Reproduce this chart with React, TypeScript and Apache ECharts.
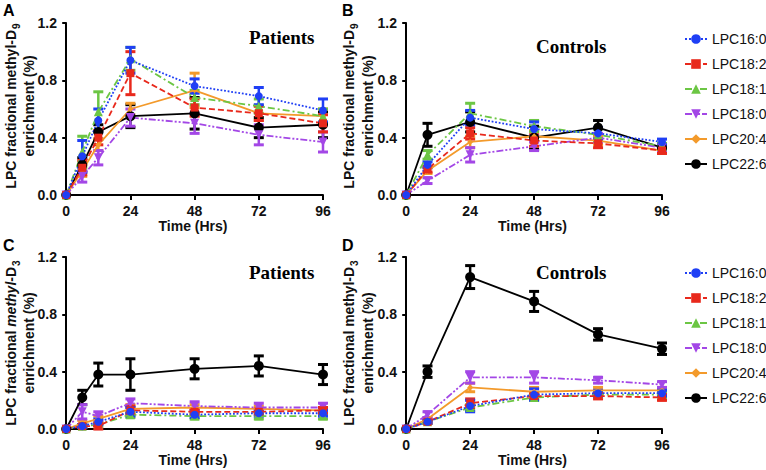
import React, { useEffect, useRef } from "react";
import * as echarts from "echarts";

const lipids = ["LPC16:0", "LPC18:2", "LPC18:1", "LPC18:0", "LPC20:4", "LPC22:6"];
const timesPatients = [0, 6, 12, 24, 48, 72, 96];
const timesControls = [0, 8, 24, 48, 72, 96];
const xTicks = [0, 24, 48, 72, 96];

// Panel A: patients, methyl-D9 (rows follow `lipids`)
const meanA = [
  [0, 0.27, 0.52, 0.94, 0.76, 0.69, 0.59],
  [0, 0.19, 0.4, 0.85, 0.61, 0.57, 0.5],
  [0, 0.3, 0.58, 0.95, 0.68, 0.62, 0.55],
  [0, 0.13, 0.26, 0.54, 0.5, 0.42, 0.37],
  [0, 0.17, 0.35, 0.6, 0.73, 0.57, 0.55],
  [0, 0.21, 0.44, 0.55, 0.57, 0.47, 0.49],
];
const errA = [
  [0, 0.11, 0.08, 0.09, 0.05, 0.06, 0.08],
  [0, 0.05, 0.05, 0.15, 0.06, 0.05, 0.06],
  [0, 0.11, 0.14, 0.08, 0.05, 0.05, 0.05],
  [0, 0.04, 0.05, 0.06, 0.07, 0.07, 0.07],
  [0, 0.04, 0.04, 0.04, 0.12, 0.05, 0.05],
  [0, 0.05, 0.05, 0.08, 0.11, 0.07, 0.09],
];
// Panel B: controls, methyl-D9
const meanB = [
  [0, 0.21, 0.54, 0.46, 0.43, 0.37],
  [0, 0.18, 0.43, 0.38, 0.36, 0.31],
  [0, 0.28, 0.57, 0.48, 0.42, 0.34],
  [0, 0.1, 0.28, 0.34, 0.4, 0.33],
  [0, 0.17, 0.37, 0.41, 0.38, 0.31],
  [0, 0.42, 0.51, 0.4, 0.47, 0.33],
];
const errB = [
  [0, 0.02, 0.05, 0.05, 0.04, 0.02],
  [0, 0.02, 0.04, 0.04, 0.03, 0.02],
  [0, 0.03, 0.07, 0.04, 0.04, 0.02],
  [0, 0.02, 0.05, 0.03, 0.03, 0.02],
  [0, 0.02, 0.04, 0.04, 0.03, 0.02],
  [0, 0.08, 0.07, 0.08, 0.05, 0.02],
];
// Panel C: patients, methyl-D3
const meanC = [
  [0, 0.02, 0.05, 0.12, 0.1, 0.11, 0.11],
  [0, 0.02, 0.02, 0.13, 0.12, 0.12, 0.13],
  [0, 0.02, 0.03, 0.1, 0.09, 0.09, 0.09],
  [0, 0.12, 0.09, 0.18, 0.16, 0.15, 0.15],
  [0, 0.04, 0.07, 0.14, 0.15, 0.14, 0.13],
  [0, 0.22, 0.38, 0.38, 0.42, 0.44, 0.38],
];
const errC = [
  [0, 0.01, 0.02, 0.03, 0.02, 0.02, 0.02],
  [0, 0.01, 0.02, 0.03, 0.02, 0.02, 0.02],
  [0, 0.01, 0.01, 0.02, 0.02, 0.02, 0.02],
  [0, 0.05, 0.03, 0.03, 0.03, 0.03, 0.03],
  [0, 0.02, 0.02, 0.03, 0.02, 0.02, 0.02],
  [0, 0.05, 0.08, 0.11, 0.07, 0.07, 0.07],
];
// Panel D: controls, methyl-D3
const meanD = [
  [0, 0.05, 0.16, 0.24, 0.25, 0.25],
  [0, 0.05, 0.18, 0.23, 0.23, 0.22],
  [0, 0.05, 0.15, 0.22, 0.24, 0.24],
  [0, 0.1, 0.36, 0.36, 0.34, 0.31],
  [0, 0.07, 0.29, 0.26, 0.27, 0.27],
  [0, 0.4, 1.06, 0.89, 0.66, 0.56],
];
const errD = [
  [0, 0.01, 0.04, 0.04, 0.02, 0.02],
  [0, 0.01, 0.03, 0.02, 0.02, 0.02],
  [0, 0.01, 0.02, 0.02, 0.02, 0.02],
  [0, 0.02, 0.04, 0.04, 0.02, 0.02],
  [0, 0.01, 0.03, 0.03, 0.02, 0.02],
  [0, 0.04, 0.08, 0.07, 0.04, 0.04],
];

const colors = ["#1f3ff5", "#e8291c", "#6cc644", "#a347e6", "#f39a2b", "#000000"];
const lineTypes: any[] = ["dotted", [6, 3], [7, 3, 2, 3], [7, 2, 2, 2, 2, 2], "solid", "solid"];
const symbols = ["circle", "rect", "triangle", "triangle", "diamond", "circle"];
const symbolRotates = [0, 0, 0, 180, 0, 0];
const symbolSizes = [8, 8, 9, 9, 6, 10];
const drawOrder = [5, 4, 3, 2, 1, 0];

const SANS = "Liberation Sans, Arial, sans-serif";
const SERIF = "Liberation Serif, Times New Roman, serif";

const panels = [
  { means: meanA, errs: errA, times: timesPatients, left: 63, top: 23, width: 260 },
  { means: meanB, errs: errB, times: timesControls, left: 403, top: 23, width: 259 },
  { means: meanC, errs: errC, times: timesPatients, left: 63, top: 257, width: 260 },
  { means: meanD, errs: errD, times: timesControls, left: 403, top: 257, width: 259 },
];

function buildOption() {
  const grid: any[] = [];
  const xAxis: any[] = [];
  const yAxis: any[] = [];
  const series: any[] = [];
  panels.forEach((p, pi) => {
    grid.push({ left: p.left, top: p.top, width: p.width, height: 172 });
    xAxis.push({
      gridIndex: pi,
      type: "value",
      min: -1.2,
      max: 96,
      name: "Time (Hrs)",
      nameLocation: "middle",
      nameGap: 24,
      nameTextStyle: { fontFamily: SANS, fontWeight: "bold", fontSize: 14, color: "#111" },
      axisLine: { onZero: false, lineStyle: { color: "#000", width: 2 } },
      axisTick: { customValues: xTicks, length: 5, lineStyle: { color: "#000", width: 2 } },
      axisLabel: {
        customValues: xTicks,
        margin: 9,
        fontFamily: SANS,
        fontWeight: "bold",
        fontSize: 14,
        color: "#111",
      },
      splitLine: { show: false },
    });
    yAxis.push({
      gridIndex: pi,
      type: "value",
      min: 0,
      max: 1.2,
      interval: 0.4,
      axisLine: { show: true, lineStyle: { color: "#000", width: 2 } },
      axisTick: { show: true, length: 4, lineStyle: { color: "#000", width: 2 } },
      axisLabel: {
        margin: 6,
        fontFamily: SANS,
        fontWeight: "bold",
        fontSize: 14,
        color: "#111",
        formatter: (v: number) => v.toFixed(1),
      },
      splitLine: { show: false },
    });
    drawOrder.forEach((li) => {
      const color = colors[li];
      const ebData = p.times
        .map((t, k) => [t, p.means[li][k] - p.errs[li][k], p.means[li][k] + p.errs[li][k]])
        .filter((d, k) => p.errs[li][k] > 0);
      series.push({
        type: "custom",
        name: "err-" + pi + "-" + li,
        xAxisIndex: pi,
        yAxisIndex: pi,
        encode: { x: 0, y: [1, 2] },
        data: ebData,
        z: 2,
        renderItem: (params: any, api: any) => {
          const x = api.value(0);
          const lo = api.coord([x, api.value(1)]);
          const hi = api.coord([x, api.value(2)]);
          const w = 5;
          const st = { stroke: color, lineWidth: 2.5 };
          return {
            type: "group",
            children: [
              { type: "line", shape: { x1: lo[0], y1: lo[1], x2: hi[0], y2: hi[1] }, style: st },
              { type: "line", shape: { x1: lo[0] - w, y1: lo[1], x2: lo[0] + w, y2: lo[1] }, style: { stroke: color, lineWidth: 3 } },
              { type: "line", shape: { x1: hi[0] - w, y1: hi[1], x2: hi[0] + w, y2: hi[1] }, style: { stroke: color, lineWidth: 3 } },
            ],
          };
        },
      });
      series.push({
        type: "line",
        name: lipids[li],
        xAxisIndex: pi,
        yAxisIndex: pi,
        data: p.times.map((t, k) => [t, p.means[li][k]]),
        symbol: symbols[li],
        symbolSize: symbolSizes[li],
        symbolRotate: symbolRotates[li],
        showAllSymbol: true,
        z: 3,
        itemStyle: { color },
        lineStyle: { color, width: 1.8, type: lineTypes[li] },
      });
    });
  });

  const legendCommon = {
    orient: "vertical",
    left: 679,
    itemWidth: 22,
    itemHeight: 12,
    itemGap: 11,
    data: lipids,
    selectedMode: false,
    textStyle: { fontFamily: SANS, fontSize: 14, color: "#111" },
  };

  const yTitle = (x1: number, x2: number, cy: number, sub: string, italic: boolean) => [
    {
      type: "text",
      x: x1,
      y: cy,
      rotation: Math.PI / 2,
      style: {
        text: italic
          ? "{b|LPC fractional }{i|methyl}{b|-D}{s|" + sub + "}"
          : "{b|LPC fractional methyl-D}{s|" + sub + "}",
        align: "center",
        verticalAlign: "middle",
        rich: {
          b: { fontFamily: SANS, fontWeight: "bold", fontSize: 14, fill: "#111", lineHeight: 20 },
          i: { fontFamily: SANS, fontWeight: "bold", fontStyle: "italic", fontSize: 14, fill: "#111", lineHeight: 20 },
          s: { fontFamily: SANS, fontWeight: "bold", fontSize: 10, fill: "#111", lineHeight: 20, verticalAlign: "bottom", padding: [6, 0, 0, 1] },
        },
      },
    },
    {
      type: "text",
      x: x2,
      y: cy,
      rotation: Math.PI / 2,
      style: {
        text: "enrichment (%)",
        align: "center",
        verticalAlign: "middle",
        fontFamily: SANS,
        fontWeight: "bold",
        fontSize: 14,
        fill: "#111",
      },
    },
  ];

  const letter = (t: string, x: number, y: number) => ({
    type: "text",
    x,
    y,
    style: { text: t, fontFamily: SANS, fontWeight: "bold", fontSize: 16, fill: "#000" },
  });
  const title = (t: string, x: number, y: number) => ({
    type: "text",
    x,
    y,
    style: { text: t, fontFamily: SERIF, fontWeight: "bold", fontSize: 19, fill: "#000", verticalAlign: "middle" },
  });

  return {
    animation: false,
    backgroundColor: "#ffffff",
    grid,
    xAxis,
    yAxis,
    series,
    legend: [
      { ...legendCommon, top: 27 },
      { ...legendCommon, top: 261 },
    ],
    graphic: [
      letter("A", 3, 2),
      letter("B", 342, 2),
      letter("C", 3, 237),
      letter("D", 342, 237),
      title("Patients", 249, 37),
      title("Controls", 536, 46),
      title("Patients", 249, 272),
      title("Controls", 536, 272),
      ...yTitle(11, 29, 106, "9", false),
      ...yTitle(349, 368, 106, "9", false),
      ...yTitle(11, 29, 343, "3", true),
      ...yTitle(349, 368, 343, "3", false),
    ],
  };
}

export default function App() {
  const ref = useRef<HTMLDivElement>(null);
  useEffect(() => {
    if (!ref.current) return;
    const chart = echarts.init(ref.current, undefined, { renderer: "svg" });
    chart.setOption(buildOption() as any);
    return () => chart.dispose();
  }, []);
  return (
    <div
      ref={ref}
      style={{ position: "fixed", left: 0, top: 0, width: 766, height: 470, background: "#fff" }}
    />
  );
}
